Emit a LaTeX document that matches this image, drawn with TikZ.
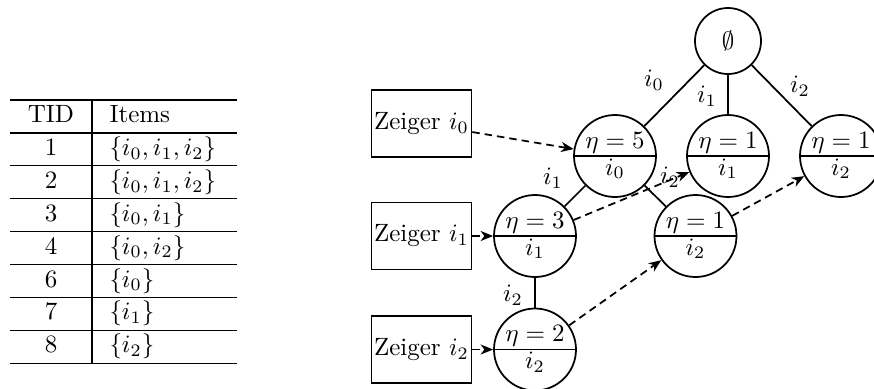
\documentclass[tikz,border=0pt]{standalone}
\usetikzlibrary{arrows.meta}
\begin{document}
\begin{tikzpicture}[x=0.4pt,y=-0.4pt,
  gline/.style={line width=0.7pt},
  bigc/.style={circle,draw,line width=0.7pt,minimum size=32.8pt,inner sep=0pt},
  rootc/.style={circle,draw,line width=0.7pt,minimum size=26.4pt,inner sep=0pt},
  zbox/.style={rectangle,draw,line width=0.7pt,minimum width=39.6pt,minimum height=26.8pt,inner xsep=1pt},
  lbl/.style={inner sep=0pt},
  ptr/.style={line width=0.7pt,dash pattern=on 3pt off 2pt,-{Stealth[length=5pt,width=4pt,inset=1.5pt]}},
  tabrule/.style={line width=0.5pt},
  cell/.style={inner sep=0pt,anchor=base},
  lcell/.style={inner sep=0pt,anchor=base west}
]
\path[use as bounding box] (0,0) rectangle (874,388);
\clip (0,0) rectangle (874,388);

% ---- table ----
\foreach \i in {0,...,8} \draw[tabrule] (10,{100+32.9*\i}) -- (237,{100+32.9*\i});
\draw[tabrule] (92,100) -- (92,363.2);
\node[cell] (t0a) at (51,122.5) {TID};
\node[lcell] (t0b) at (109,122.5) {Items};
\node[cell] (t1a) at (51,155.4) {1};
\node[lcell] (t1b) at (109,155.4) {$\{i_0,i_1,i_2\}$};
\node[cell] (t2a) at (51,188.3) {2};
\node[lcell] (t2b) at (109,188.3) {$\{i_0,i_1,i_2\}$};
\node[cell] (t3a) at (51,221.2) {3};
\node[lcell] (t3b) at (109,221.2) {$\{i_0,i_1\}$};
\node[cell] (t4a) at (51,254.1) {4};
\node[lcell] (t4b) at (109,254.1) {$\{i_0,i_2\}$};
\node[cell] (t5a) at (51,287.0) {6};
\node[lcell] (t5b) at (109,287.0) {$\{i_0\}$};
\node[cell] (t6a) at (51,319.9) {7};
\node[lcell] (t6b) at (109,319.9) {$\{i_1\}$};
\node[cell] (t7a) at (51,352.8) {8};
\node[lcell] (t7b) at (109,352.8) {$\{i_2\}$};

% ---- tree ----
\node[rootc] (root) at (728,41) {$\emptyset$};
\node[bigc] (c5) at (615,156) {};
\node[bigc] (a1) at (728,156) {};
\node[bigc] (b1) at (841,156) {};
\node[bigc] (c3) at (535,236) {};
\node[bigc] (m1) at (695.5,236) {};
\node[bigc] (c2) at (535,349.5) {};

\foreach \nm/\ev/\iv in {c5/5/0, a1/1/1, b1/1/2, c3/3/1, m1/1/2, c2/2/2}{
  \draw[gline] (\nm.west) -- (\nm.east);
  \node[cell] (\nm-top) at ([yshift=3.2pt]\nm.center) {$\eta=\ev$};
  \node[cell] (\nm-bot) at ([yshift=-7.6pt]\nm.center) {$i_{\iv}$};
}

\draw[gline] (root) -- (c5);
\draw[gline] (root) -- (a1);
\draw[gline] (root) -- (b1);
\draw[gline] (c5) -- (c3);
\draw[gline] (c5) -- (m1);
\draw[gline] (c3) -- (c2);

\node[lbl] (e1) at (654,80) {$i_0$};
\node[lbl] (e2) at (707,96) {$i_1$};
\node[lbl] (e3) at (800,86) {$i_2$};
\node[lbl] (e4) at (553,178) {$i_1$};
\node[lbl] (e5) at (670,177) {$i_2$};
\node[lbl] (e6) at (513,295) {$i_2$};

% ---- pointer boxes ----
\node[zbox] (z0) at (421.5,123.5) {Zeiger $i_0$};
\node[zbox] (z1) at (421.5,236) {Zeiger $i_1$};
\node[zbox] (z2) at (421.5,349.5) {Zeiger $i_2$};

\draw[ptr] (z0) -- (c5);
\draw[ptr] (z1) -- (c3);
\draw[ptr] (z2) -- (c2);
\draw[ptr] (c3) -- (a1);
\draw[ptr] (m1) -- (b1);
\draw[ptr] (c2) -- (m1);
\end{tikzpicture}
\end{document}
